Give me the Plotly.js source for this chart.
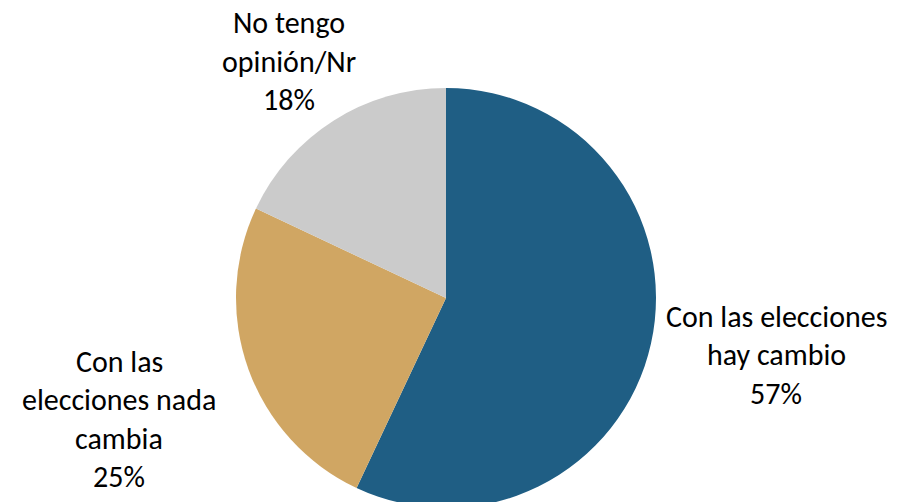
<!DOCTYPE html>
<html>
<head>
<meta charset="utf-8">
<script src="https://cdn.plot.ly/plotly-3.0.1.min.js"></script>
<style>
html, body { margin: 0; padding: 0; overflow: hidden; background: #ffffff; }
#chart { width: 897px; height: 510px; }
</style>
</head>
<body>
<div id="chart"></div>
<script>
// Data
var categories = ['Con las elecciones hay cambio', 'Con las elecciones nada cambia', 'No tengo opinión/Nr'];
var values = [57, 25, 18];
var labelLines = [
  ['Con las elecciones', 'hay cambio'],
  ['Con las', 'elecciones nada', 'cambia'],
  ['No tengo', 'opinión/Nr']
];
var colors = ['#1F5E84', '#D0A663', '#CBCBCB'];

// Layout geometry (pixels)
var W = 897, H = 510;
var cx = 446, cy = 298, R = 210;
var labelCenters = [[776, 316], [119, 361], [289, 23]];
var lineStep = 38.5;
var fontStack = 'Carlito, Lato, "Liberation Sans", sans-serif';

var annotations = [];
for (var i = 0; i < categories.length; i++) {
  var lines = labelLines[i].concat([values[i] + '%']);
  for (var j = 0; j < lines.length; j++) {
    annotations.push({
      xref: 'paper', yref: 'paper',
      x: labelCenters[i][0] / W,
      y: 1 - (labelCenters[i][1] + j * lineStep) / H,
      xanchor: 'center', yanchor: 'middle',
      text: lines[j],
      showarrow: false,
      font: { family: fontStack, size: 30, color: '#000000' }
    });
  }
}

var trace = {
  type: 'pie',
  labels: categories,
  values: values,
  sort: false,
  direction: 'clockwise',
  rotation: 0,
  textinfo: 'none',
  hoverinfo: 'label+percent',
  marker: { colors: colors, line: { width: 0 } },
  domain: {
    x: [(cx - R) / W, (cx + R) / W],
    y: [(H - cy - R) / H, (H - cy + R) / H]
  },
  showlegend: false
};

var layout = {
  width: W, height: H,
  margin: { l: 0, r: 0, t: 0, b: 0 },
  paper_bgcolor: '#ffffff',
  plot_bgcolor: '#ffffff',
  showlegend: false,
  annotations: annotations
};

Plotly.newPlot('chart', [trace], layout, { displayModeBar: false, staticPlot: true });
</script>
</body>
</html>
